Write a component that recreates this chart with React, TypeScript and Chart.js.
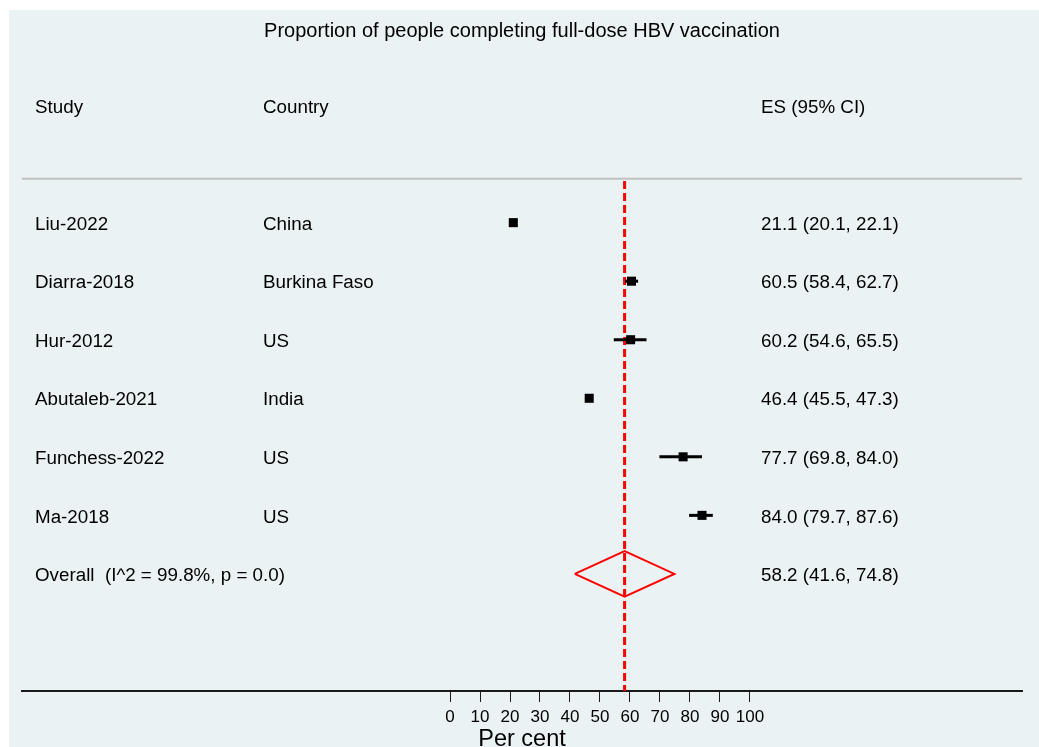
import React, { useEffect, useRef } from "react";
import { Chart, registerables } from "chart.js";

Chart.register(...registerables);

// Forest plot data
const TITLE = "Proportion of people completing full-dose HBV vaccination";
const HEADERS = ["Study", "Country", "ES (95% CI)"];
const STUDIES = ["Liu-2022", "Diarra-2018", "Hur-2012", "Abutaleb-2021", "Funchess-2022", "Ma-2018"];
const COUNTRIES = ["China", "Burkina Faso", "US", "India", "US", "US"];
const ES = [21.1, 60.5, 60.2, 46.4, 77.7, 84.0];
const CI_LOW = [20.1, 58.4, 54.6, 45.5, 69.8, 79.7];
const CI_HIGH = [22.1, 62.7, 65.5, 47.3, 84.0, 87.6];
const OVERALL_LABEL = "Overall  (I^2 = 99.8%, p = 0.0)";
const OVERALL_ES = 58.2;
const OVERALL_LOW = 41.6;
const OVERALL_HIGH = 74.8;
const X_TICKS = [0, 10, 20, 30, 40, 50, 60, 70, 80, 90, 100];
const X_TITLE = "Per cent";

// Row layout on the y scale: header at -1, studies at 1..6, overall at 7
const HEADER_ROW = -1;
const OVERALL_ROW = STUDIES.length + 1;
const Y_MIN = -2;
const Y_MAX = 9;
const SEPARATOR_ROW = 0.25;
const DIAMOND_HALF = 0.39;
const X_MIN = -142.67;
const X_MAX = 190.67;

const W = 1030;
const H = 737;
const FONT = "'Liberation Sans', Arial, Helvetica, sans-serif";
const COL_X = [26, 254, 752];
const TEXT_DY = 2;

const fmt = (v: number) => v.toFixed(1);
const esText = (e: number, l: number, h: number) => `${fmt(e)} (${fmt(l)}, ${fmt(h)})`;

const textPlugin = {
  id: "forestText",
  afterDraw(chart: any) {
    const { ctx } = chart;
    const ys = chart.scales.y;
    ctx.save();
    ctx.fillStyle = "#000";
    ctx.textBaseline = "middle";

    ctx.font = `20px ${FONT}`;
    ctx.textAlign = "center";
    ctx.fillText(TITLE, 513, 19 + TEXT_DY);

    ctx.font = `18.8px ${FONT}`;
    ctx.textAlign = "left";
    const hy = ys.getPixelForValue(HEADER_ROW) + TEXT_DY;
    HEADERS.forEach((h, i) => ctx.fillText(h, COL_X[i], hy));

    STUDIES.forEach((s, i) => {
      const y = ys.getPixelForValue(i + 1) + TEXT_DY;
      ctx.fillText(s, COL_X[0], y);
      ctx.fillText(COUNTRIES[i], COL_X[1], y);
      ctx.fillText(esText(ES[i], CI_LOW[i], CI_HIGH[i]), COL_X[2], y);
    });

    const oy = ys.getPixelForValue(OVERALL_ROW) + TEXT_DY;
    ctx.fillText(OVERALL_LABEL, COL_X[0], oy);
    ctx.fillText(esText(OVERALL_ES, OVERALL_LOW, OVERALL_HIGH), COL_X[2], oy);
    ctx.restore();
  },
};

export default function App() {
  const ref = useRef<HTMLCanvasElement | null>(null);

  useEffect(() => {
    if (!ref.current) return;

    const ciSets = STUDIES.map((s, i) => ({
      type: "scatter" as const,
      label: `${s} CI`,
      data: [
        { x: CI_LOW[i], y: i + 1 },
        { x: CI_HIGH[i], y: i + 1 },
      ],
      showLine: true,
      borderColor: "#000",
      borderWidth: 3,
      pointRadius: 0,
      order: 1,
    }));

    const chart = new Chart(ref.current, {
      type: "scatter",
      data: {
        datasets: [
          {
            label: "Estimates",
            data: ES.map((v, i) => ({ x: v, y: i + 1 })),
            pointStyle: "rect",
            pointRadius: 6.4,
            pointBackgroundColor: "#000",
            pointBorderWidth: 0,
            order: 0,
          },
          ...ciSets,
          {
            label: "Overall",
            data: [
              { x: OVERALL_LOW, y: OVERALL_ROW },
              { x: OVERALL_ES, y: OVERALL_ROW - DIAMOND_HALF },
              { x: OVERALL_HIGH, y: OVERALL_ROW },
              { x: OVERALL_ES, y: OVERALL_ROW + DIAMOND_HALF },
              { x: OVERALL_LOW, y: OVERALL_ROW },
            ],
            showLine: true,
            borderColor: "#ff0000",
            borderWidth: 2,
            pointRadius: 0,
            fill: false,
            order: 2,
          },
          {
            label: "Pooled estimate",
            data: [
              { x: OVERALL_ES, y: SEPARATOR_ROW + 0.04 },
              { x: OVERALL_ES, y: Y_MAX },
            ],
            showLine: true,
            borderColor: "#ff0000",
            borderWidth: 3,
            borderDash: [8, 4],
            pointRadius: 0,
            order: 3,
          },
          {
            label: "Separator",
            data: [
              { x: X_MIN, y: SEPARATOR_ROW },
              { x: X_MAX, y: SEPARATOR_ROW },
            ],
            showLine: true,
            borderColor: "#c0c0c0",
            borderWidth: 2,
            pointRadius: 0,
            order: 4,
          },
        ],
      },
      options: {
        responsive: false,
        animation: false,
        events: [],
        layout: { padding: { left: 13, right: 17, top: 37, bottom: 0 } },
        plugins: {
          legend: { display: false },
          title: { display: false },
          tooltip: { enabled: false },
        },
        scales: {
          x: {
            type: "linear",
            min: X_MIN,
            max: X_MAX,
            afterBuildTicks: (axis: any) => {
              axis.ticks = X_TICKS.map((v) => ({ value: v }));
            },
            afterFit: (axis: any) => {
              axis.height = 56;
            },
            border: { display: true, color: "#1a1a1a", width: 2 },
            grid: {
              drawOnChartArea: false,
              drawTicks: true,
              tickLength: 11,
              color: "#1a1a1a",
              lineWidth: 1,
            },
            ticks: {
              autoSkip: false,
              maxRotation: 0,
              padding: 5,
              color: "#000",
              font: { family: FONT, size: 17 },
              callback: (v: any) => String(v),
            },
            title: {
              display: true,
              text: X_TITLE,
              color: "#000",
              font: { family: FONT, size: 23.5, lineHeight: 0.6 },
              padding: { top: 0, bottom: 0 },
            },
          },
          y: {
            type: "linear",
            display: false,
            min: Y_MIN,
            max: Y_MAX,
            reverse: true,
          },
        },
      },
      plugins: [textPlugin],
    });

    return () => chart.destroy();
  }, []);

  return (
    <div
      style={{
        position: "absolute",
        left: 9,
        top: 10,
        width: W,
        height: H,
        background: "#eaf2f3",
      }}
    >
      <canvas ref={ref} width={W} height={H} style={{ display: "block" }} />
    </div>
  );
}
